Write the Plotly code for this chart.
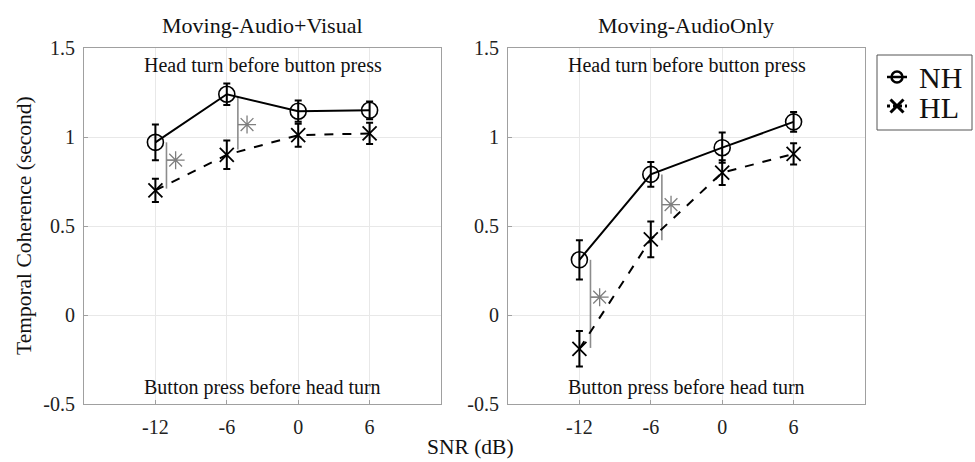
import plotly.graph_objects as go

snr = [-12, -6, 0, 6]
x_ticks = [-12, -6, 0, 6]
x_tick_labels = ["-12", "-6", "0", "6"]
y_ticks = [-0.5, 0, 0.5, 1, 1.5]
y_tick_labels = ["-0.5", "0", "0.5", "1", "1.5"]

av_nh = [0.97, 1.24, 1.145, 1.15]
av_nh_err = [0.10, 0.06, 0.06, 0.05]
av_hl = [0.70, 0.90, 1.01, 1.02]
av_hl_err = [0.065, 0.08, 0.065, 0.06]

ao_nh = [0.31, 0.79, 0.94, 1.085]
ao_nh_err = [0.11, 0.07, 0.085, 0.055]
ao_hl = [-0.19, 0.425, 0.80, 0.905]
ao_hl_err = [0.10, 0.10, 0.07, 0.06]

sig_snr = [-12, -6]
av_sig_top = [0.97, 1.225]
av_sig_bot = [0.71, 0.93]
av_sig_star = [0.87, 1.07]
ao_sig_top = [0.31, 0.79]
ao_sig_bot = [-0.185, 0.42]
ao_sig_star = [0.10, 0.62]

titles = ["Moving-Audio+Visual", "Moving-AudioOnly"]
legend_names = ["NH", "HL"]
FONT = "Liberation Serif"
W, H = 975, 462
GRAY = "#7f7f7f"

fig = go.Figure()

panels = [
    ("x", "y", av_nh, av_nh_err, av_hl, av_hl_err, av_sig_top, av_sig_bot, av_sig_star),
    ("x2", "y2", ao_nh, ao_nh_err, ao_hl, ao_hl_err, ao_sig_top, ao_sig_bot, ao_sig_star),
]

for i, (xa, ya, nh, nhe, hl, hle, st, sb, ss) in enumerate(panels):
    for k, s in enumerate(sig_snr):
        lx = s + 0.93
        sx = s + 1.7
        fig.add_trace(go.Scatter(x=[lx, lx], y=[sb[k], st[k]], mode="lines",
                                 line=dict(color="#8c8c8c", width=1.6), xaxis=xa, yaxis=ya,
                                 showlegend=False, hoverinfo="skip"))
        fig.add_trace(go.Scatter(x=[lx, sx], y=[ss[k], ss[k]], mode="lines",
                                 line=dict(color="#8c8c8c", width=1.2), xaxis=xa, yaxis=ya,
                                 showlegend=False, hoverinfo="skip"))
        fig.add_trace(go.Scatter(x=[sx], y=[ss[k]], mode="markers",
                                 marker=dict(symbol="asterisk-open", size=15, color=GRAY,
                                             line=dict(color=GRAY, width=1.3)),
                                 xaxis=xa, yaxis=ya, showlegend=False, hoverinfo="skip"))
    fig.add_trace(go.Scatter(x=snr, y=hl, mode="lines+markers", name=legend_names[1],
                             line=dict(color="black", width=2, dash="dash"),
                             marker=dict(symbol="x-thin-open", size=14, color="black",
                                         line=dict(color="black", width=1.8)),
                             error_y=dict(type="data", array=hle, color="black", thickness=2, width=3.5),
                             xaxis=xa, yaxis=ya, showlegend=False))
    fig.add_trace(go.Scatter(x=snr, y=nh, mode="lines+markers", name=legend_names[0],
                             line=dict(color="black", width=2),
                             marker=dict(symbol="circle-open", size=16, color="black",
                                         line=dict(color="black", width=1.6)),
                             error_y=dict(type="data", array=nhe, color="black", thickness=2, width=3.5),
                             xaxis=xa, yaxis=ya, showlegend=False))

# --- custom legend (drawn in a hidden pixel-scaled axis) ---
LX0, LX1, LY0, LY1 = 877, 972, 55, 130
fig.add_trace(go.Scatter(x=[887, 907], y=[77, 77], mode="lines", line=dict(color="black", width=2.5),
                         xaxis="x3", yaxis="y3", showlegend=False, hoverinfo="skip"))
fig.add_trace(go.Scatter(x=[897], y=[77], mode="markers",
                         marker=dict(symbol="circle-open", size=11, color="black",
                                     line=dict(color="black", width=2.5)),
                         xaxis="x3", yaxis="y3", showlegend=False, hoverinfo="skip"))
fig.add_trace(go.Scatter(x=[887, 907], y=[106, 106], mode="lines",
                         line=dict(color="black", width=3, dash="dot"),
                         xaxis="x3", yaxis="y3", showlegend=False, hoverinfo="skip"))
fig.add_trace(go.Scatter(x=[897], y=[106], mode="markers",
                         marker=dict(symbol="x-thin-open", size=13, color="black",
                                     line=dict(color="black", width=3)),
                         xaxis="x3", yaxis="y3", showlegend=False, hoverinfo="skip"))

ax_common = dict(showgrid=True, gridcolor="#e8e8e8", gridwidth=1, zeroline=False,
                 showline=True, mirror=True, linecolor="#a0a0a0", linewidth=1,
                 ticks="inside", ticklen=4, tickcolor="#a0a0a0",
                 tickfont=dict(family=FONT, size=20, color="#222"),
                 automargin=False)

yd = [1 - 404 / H, 1 - 48 / H]
fig.update_layout(
    width=W, height=H, margin=dict(l=0, r=0, t=0, b=0),
    plot_bgcolor="white", paper_bgcolor="white",
    font=dict(family=FONT, color="#222"),
    xaxis=dict(domain=[84 / W, 441 / W], range=[-18, 12], tickvals=x_ticks, ticktext=x_tick_labels,
               anchor="y", ticklabelstandoff=5, **ax_common),
    yaxis=dict(domain=yd, range=[-0.5, 1.5], tickvals=y_ticks, ticktext=y_tick_labels,
               anchor="x", ticklabelstandoff=4, **ax_common),
    xaxis2=dict(domain=[508 / W, 865 / W], range=[-18, 12], tickvals=x_ticks, ticktext=x_tick_labels,
                anchor="y2", ticklabelstandoff=5, **ax_common),
    yaxis2=dict(domain=yd, range=[-0.5, 1.5], tickvals=y_ticks, ticktext=y_tick_labels,
                anchor="x2", ticklabelstandoff=4, **ax_common),
    xaxis3=dict(domain=[LX0 / W, LX1 / W], range=[LX0, LX1], visible=False, fixedrange=True, anchor="y3"),
    yaxis3=dict(domain=[1 - LY1 / H, 1 - LY0 / H], range=[LY1, LY0], visible=False, fixedrange=True, anchor="x3"),
    showlegend=False,
    shapes=[dict(type="rect", xref="paper", yref="paper",
                 x0=LX0 / W, x1=LX1 / W, y0=1 - LY1 / H, y1=1 - LY0 / H,
                 line=dict(color="#555", width=1), fillcolor="rgba(0,0,0,0)", layer="below")],
)

ann = []
for xa, ya in [("x", "y"), ("x2", "y2")]:
    ann.append(dict(x=-3, y=1.4, xref=xa, yref=ya, text="Head turn before button press",
                    showarrow=False, font=dict(family=FONT, size=20, color="#111")))
    ann.append(dict(x=-3, y=-0.41, xref=xa, yref=ya, text="Button press before head turn",
                    showarrow=False, font=dict(family=FONT, size=20, color="#111")))
ann.append(dict(x=262 / W, y=1 - 26 / H, xref="paper", yref="paper", text=titles[0],
                xanchor="center", yanchor="middle",
                showarrow=False, font=dict(family=FONT, size=22, color="#111")))
ann.append(dict(x=686 / W, y=1 - 26 / H, xref="paper", yref="paper", text=titles[1],
                xanchor="center", yanchor="middle",
                showarrow=False, font=dict(family=FONT, size=22, color="#111")))
ann.append(dict(x=24 / W, y=1 - 226 / H, xref="paper", yref="paper", text="Temporal Coherence (second)",
                xanchor="center", yanchor="middle",
                textangle=-90, showarrow=False, font=dict(family=FONT, size=21.5, color="#111")))
ann.append(dict(x=470 / W, y=1 - 447 / H, xref="paper", yref="paper", text="SNR (dB)",
                xanchor="center", yanchor="middle",
                showarrow=False, font=dict(family=FONT, size=21.5, color="#111")))
ann.append(dict(x=917 / W, y=1 - 78 / H, xref="paper", yref="paper", text=legend_names[0],
                xanchor="left", yanchor="middle",
                showarrow=False, font=dict(family=FONT, size=30, color="#111")))
ann.append(dict(x=917 / W, y=1 - 108 / H, xref="paper", yref="paper", text=legend_names[1],
                xanchor="left", yanchor="middle",
                showarrow=False, font=dict(family=FONT, size=30, color="#111")))
fig.update_layout(annotations=ann)

fig.write_html("out.html")
